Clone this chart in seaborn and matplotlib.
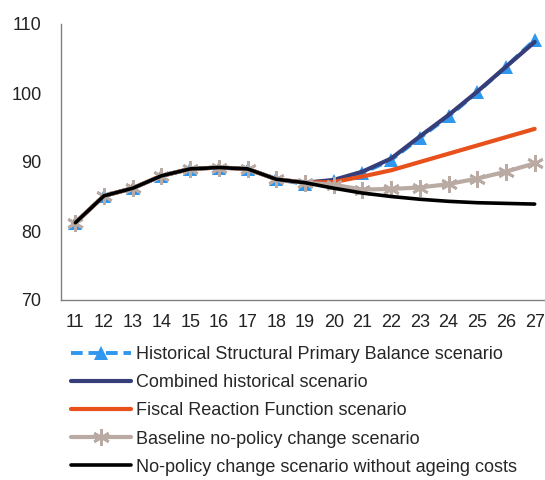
import pandas as pd
import seaborn as sns
import matplotlib.pyplot as plt

years = list(range(11, 28))
hist_spb = [81.2, 85.1, 86.2, 88.0, 89.0, 89.2, 89.0, 87.5, 86.8, 87.3, 88.4, 90.3, 93.5, 96.6, 100.1, 103.8, 107.7]
combined = [81.2, 85.1, 86.2, 88.0, 89.0, 89.2, 89.0, 87.5, 87.0, 87.4, 88.6, 90.5, 93.7, 96.8, 100.2, 103.8, 107.4]
frf = [81.2, 85.1, 86.2, 88.0, 89.0, 89.2, 89.0, 87.5, 87.0, 87.1, 87.9, 88.8, 90.0, 91.2, 92.4, 93.6, 94.8]
baseline = [81.2, 85.1, 86.2, 88.0, 89.0, 89.2, 89.0, 87.5, 87.0, 86.7, 86.0, 86.1, 86.3, 86.8, 87.6, 88.6, 89.8]
no_ageing = [81.2, 85.1, 86.2, 88.0, 89.0, 89.2, 89.0, 87.5, 87.0, 86.2, 85.5, 85.0, 84.6, 84.3, 84.1, 84.0, 83.9]

labels = ["Historical Structural Primary Balance scenario",
          "Combined historical scenario",
          "Fiscal Reaction Function scenario",
          "Baseline no-policy change scenario",
          "No-policy change scenario without ageing costs"]

df = pd.DataFrame({"year": years, "spb": hist_spb, "comb": combined,
                   "frf": frf, "base": baseline, "noage": no_ageing})

sns.set_style("white")
plt.rcParams["font.family"] = ["Liberation Sans", "DejaVu Sans"]

fig = plt.figure(figsize=(5.45, 4.8), dpi=100)
ax = fig.add_axes([61 / 545, 1 - 300 / 480, 488 / 545, 276 / 480])

sns.lineplot(data=df, x="year", y="spb", ax=ax, color="#2F97EE", linestyle=(0, (3, 1.5)),
             linewidth=2.8, marker="^", markersize=10, markeredgewidth=0, label=labels[0])
sns.lineplot(data=df, x="year", y="comb", ax=ax, color="#353E78", linewidth=3, label=labels[1])
sns.lineplot(data=df, x="year", y="frf", ax=ax, color="#E8501C", linewidth=3, label=labels[2])
sns.lineplot(data=df, x="year", y="base", ax=ax, color="#B9ABA3", linewidth=3,
             marker=(6, 2, 0), markersize=12, markeredgewidth=2, markeredgecolor="#B9ABA3",
             label=labels[3])
sns.lineplot(data=df, x="year", y="noage", ax=ax, color="black", linewidth=2.6, label=labels[4])

ax.set_xlim(10.5, 27.5)
ax.set_ylim(70, 110)
ax.set_xticks(years)
ax.set_yticks([70, 80, 90, 100, 110])
ax.tick_params(axis="both", length=0, labelsize=13, colors="#222222")
ax.tick_params(axis="x", pad=10)
ax.tick_params(axis="y", pad=14)
ax.set_xlabel("")
ax.set_ylabel("")
for s in ["top", "right"]:
    ax.spines[s].set_visible(False)
for s in ["left", "bottom"]:
    ax.spines[s].set_color("#808080")
    ax.spines[s].set_linewidth(1)

h, l = ax.get_legend_handles_labels()
ax.get_legend().remove()
fig.legend(h, l, loc="upper left", bbox_to_anchor=(71 / 545, 1 - 346 / 480),
           frameon=False, fontsize=13, handlelength=3.3, handletextpad=0.3,
           labelspacing=0.62, borderaxespad=0, borderpad=0)

fig.savefig("out.png", dpi=100)
